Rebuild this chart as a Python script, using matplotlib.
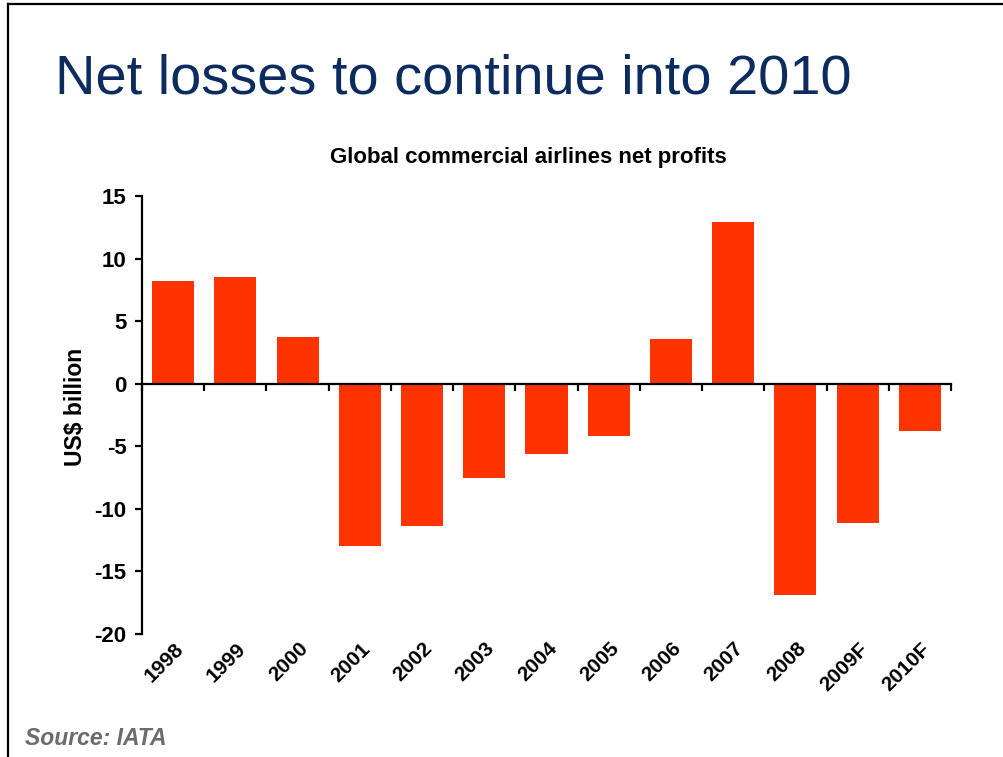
import matplotlib
matplotlib.use('Agg')
import matplotlib.pyplot as plt
from matplotlib.lines import Line2D
import matplotlib.transforms as mtransforms
import numpy as np

plt.rcParams['font.family'] = ['Liberation Sans', 'DejaVu Sans']

# data
years = ['1998', '1999', '2000', '2001', '2002', '2003', '2004',
         '2005', '2006', '2007', '2008', '2009F', '2010F']
profits = [8.2, 8.55, 3.75, -13.0, -11.35, -7.5, -5.6,
           -4.15, 3.6, 12.9, -16.85, -11.1, -3.8]
yticks = [-20, -15, -10, -5, 0, 5, 10, 15]

bar_color = '#ff3300'
navy = '#0c2b5e'

fig = plt.figure(figsize=(10.04, 7.57), dpi=100)
ax = fig.add_axes([142/1004, 1-634/757, (951-142)/1004, (634-196)/757])

x = np.arange(len(years))
ax.bar(x, profits, width=0.675, color=bar_color, zorder=2)

ax.set_xlim(-0.5, len(years)-0.5)
ax.set_ylim(-20, 15)
ax.set_yticks(yticks)
ax.set_yticklabels([str(v) for v in yticks], fontsize=16, fontweight='bold')

# x axis sits on zero, ticks between categories
ax.spines['bottom'].set_position(('data', 0))
ax.spines['top'].set_visible(False)
ax.spines['right'].set_visible(False)
ax.spines['left'].set_linewidth(1.6)
ax.spines['bottom'].set_linewidth(1.6)
ax.spines['bottom'].set_zorder(3)
ax.set_xticks(np.arange(-0.5, len(years), 1.0))
ax.set_xticklabels([])
ax.tick_params(axis='x', direction='out', length=5, width=1.6)
ax.tick_params(axis='y', direction='out', length=5, width=1.6, pad=6)

# category labels below the plot area
trans = mtransforms.blended_transform_factory(ax.transData, ax.transAxes)
offset = mtransforms.ScaledTranslation(0, -5/100, fig.dpi_scale_trans)
for i, yr in enumerate(years):
    ax.text(i + 0.01, 0, yr, transform=trans + offset, rotation=45,
            rotation_mode='anchor', ha='right', va='top',
            fontsize=15, fontweight='bold')

ax.set_ylabel('US$ billion', fontsize=16.5, fontweight='bold', va='center')
ax.yaxis.set_label_coords(75/1004, 1-407/757, transform=fig.transFigure)

fig.text(528/1004, 1-158/757, 'Global commercial airlines net profits',
         ha='center', va='center', fontsize=16, fontweight='bold')

fig.text(55/1004, 1-93/757, 'Net losses to continue into 2010',
         ha='left', va='baseline', fontsize=40.3, color=navy)

fig.text(25/1004, 1-745/757, 'Source: IATA', ha='left', va='baseline',
         fontsize=16.5, fontweight='bold', fontstyle='italic', color='#6b6b6b')

# slide frame
fig.add_artist(Line2D([8/1004, 8/1004], [0, 1-4/757], transform=fig.transFigure,
                      color='black', lw=1.6))
fig.add_artist(Line2D([8/1004, 1], [1-4/757, 1-4/757], transform=fig.transFigure,
                      color='black', lw=1.6))

fig.savefig('out.png', dpi=100)
